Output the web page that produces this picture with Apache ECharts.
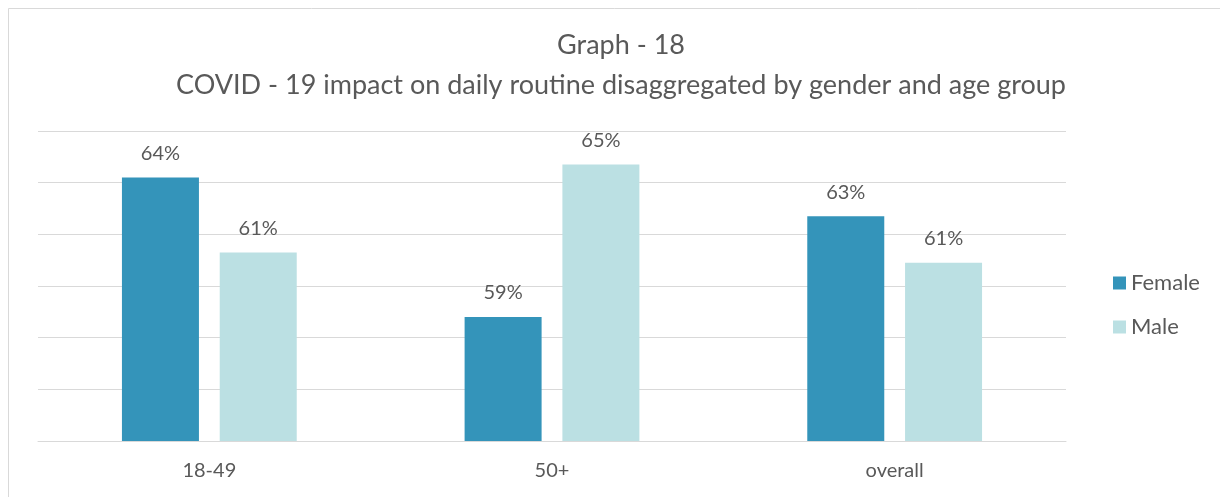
<!DOCTYPE html>
<html>
<head>
<meta charset="utf-8">
<script src="https://cdn.jsdelivr.net/npm/echarts@6/dist/echarts.min.js"></script>
<style>
html, body { margin: 0; padding: 0; background: #fff; }
#chart { width: 1220px; height: 497px; }
</style>
</head>
<body>
<div id="chart"></div>
<script>
var categories = ['18-49', '50+', 'overall'];
var female = [0.642, 0.588, 0.627];
var male = [0.613, 0.647, 0.609];
var seriesNames = ['Female', 'Male'];

var myChart = echarts.init(document.getElementById('chart'));
var font = 'Lato, "Open Sans", sans-serif';

function pct(p) {
	return Math.round(p.value * 100) + '%';
}

var option = {
	backgroundColor: '#fff',
	textStyle: { fontFamily: font, color: '#595959' },
	graphic: [{
		type: 'rect',
		shape: { x: 8.5, y: 8.5, width: 1230, height: 500 },
		style: { fill: 'none', stroke: '#d9d9d9', lineWidth: 1 },
		silent: true
	}],
	title: {
		text: 'Graph - 18\nCOVID - 19 impact on daily routine disaggregated by gender and age group',
		left: 616,
		textAlign: 'center',
		top: 20,
		textStyle: {
			fontFamily: font,
			fontWeight: 'normal',
			fontSize: 27,
			lineHeight: 40,
			color: '#595959'
		}
	},
	legend: {
		orient: 'vertical',
		left: 1108,
		top: 267,
		itemWidth: 13,
		itemHeight: 13,
		itemGap: 22,
		icon: 'rect',
		textStyle: { fontFamily: font, fontSize: 22, color: '#595959' },
		data: seriesNames
	},
	grid: { left: 38, right: 154, top: 131, bottom: 56 },
	xAxis: {
		type: 'category',
		data: categories,
		axisLine: { lineStyle: { color: '#d9d9d9' } },
		axisTick: { show: false },
		axisLabel: { fontFamily: font, fontSize: 20, color: '#595959', margin: 20 }
	},
	yAxis: {
		type: 'value',
		min: 0.54,
		max: 0.66,
		interval: 0.02,
		axisLabel: { show: false },
		axisLine: { show: false },
		axisTick: { show: false },
		splitLine: { lineStyle: { color: '#d9d9d9' } }
	},
	series: [{
		name: seriesNames[0],
		type: 'bar',
		data: female,
		barWidth: 77,
		barGap: '27%',
		itemStyle: { color: '#3494ba' },
		label: { show: true, position: 'top', distance: 14, formatter: pct, fontFamily: font, fontSize: 20, color: '#595959' }
	}, {
		name: seriesNames[1],
		type: 'bar',
		data: male,
		barWidth: 77,
		itemStyle: { color: '#bbe0e3' },
		label: { show: true, position: 'top', distance: 14, formatter: pct, fontFamily: font, fontSize: 20, color: '#595959' }
	}]
};

myChart.setOption(option);
</script>
</body>
</html>
